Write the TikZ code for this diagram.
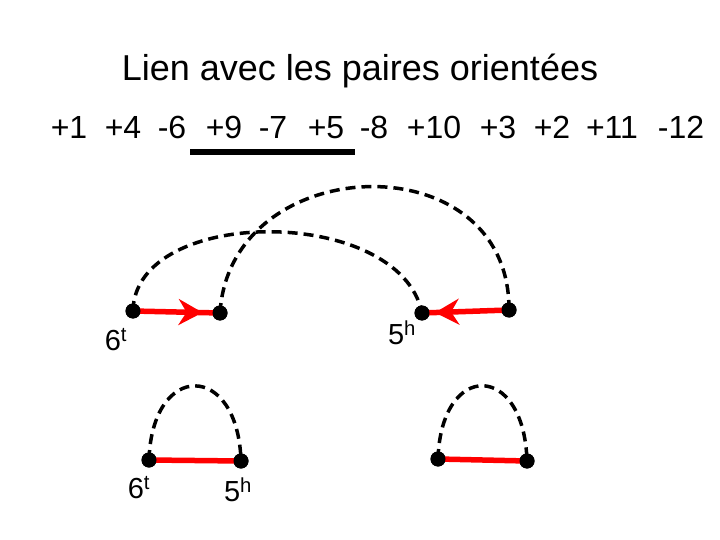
\documentclass[tikz,border=0pt]{standalone}
\usepackage{fontspec}
\setmainfont{Liberation Sans}
\usetikzlibrary{arrows.meta,decorations.markings}

\tikzset{
	dot/.style={circle, fill=black, inner sep=0pt, minimum size=15pt},
	loopline/.style={line width=3.5pt, dash pattern=on 10pt off 6pt},
	redline/.style={line width=5.5pt, color=red},
	redarrow/.style={redline, postaction={decorate}, decoration={markings,
		mark=at position #1 with {\arrow[red]{Stealth[length=24pt, width=26pt, inset=8pt]}}}},
	lab/.style={font=\fontsize{29}{32}\selectfont},
	big/.style={font=\fontsize{36}{40}\selectfont},
	num/.style={font=\fontsize{32}{36}\selectfont}
}

\begin{document}
\begin{tikzpicture}[x=1pt, y=-1pt]
		\useasboundingbox (0, 0) rectangle (720, 540);

		\node[anchor=base, big] (title) at (360, 81) {Lien avec les paires orientées};

		% la permutation
		\foreach \x/\n/\k in {69/+1/1, 123/+4/2, 172/-6/3, 224/+9/4, 273/-7/5, 326/+5/6,
			374/-8/7, 434/+10/8, 498/+3/9, 552/+2/10, 612/+11/11, 681/-12/12}
			\node[anchor=base, num] (g\k) at (\x, 139) {\n};
		\draw[line width=6pt] (190, 152) -- (355, 152);

		% haut
		\node[dot] (p1) at (133, 311) {};
		\node[dot] (p2) at (220, 313) {};
		\node[dot] (p3) at (422, 313) {};
		\node[dot] (p4) at (509, 310) {};

		\draw[redarrow=0.8] (p1.center) -- (p2.center);
		\draw[redarrow=0.85] (p4.center) -- (p3.center);
		\node[dot] at (p1) {};
		\node[dot] at (p2) {};
		\node[dot] at (p3) {};
		\node[dot] at (p4) {};

		\draw[loopline] (p1.center) .. controls (135, 205) and (400, 205) .. (p3.center);
		\draw[loopline] (p2.center) .. controls (230, 150) and (510, 140) .. (p4.center);

		\node[lab] (l1) at (116, 340) {6\textsuperscript{t}};
		\node[lab] (l2) at (402, 333) {5\textsuperscript{h}};

		% bas
		\node[dot] (q1) at (149, 460) {};
		\node[dot] (q2) at (241, 461) {};
		\node[dot] (q3) at (438, 459) {};
		\node[dot] (q4) at (527, 461) {};

		\draw[redline] (q1.center) -- (q2.center);
		\draw[redline] (q3.center) -- (q4.center);
		\node[dot] at (q1) {};
		\node[dot] at (q2) {};
		\node[dot] at (q3) {};
		\node[dot] at (q4) {};

		\draw[loopline] (q1.center) .. controls (152, 361) and (238, 361) .. (q2.center);
		\draw[loopline] (q3.center) .. controls (441, 361) and (524, 361) .. (q4.center);

		\node[lab] (l3) at (139, 488) {6\textsuperscript{t}};
		\node[lab] (l4) at (238, 490) {5\textsuperscript{h}};
	\end{tikzpicture}
\end{document}
